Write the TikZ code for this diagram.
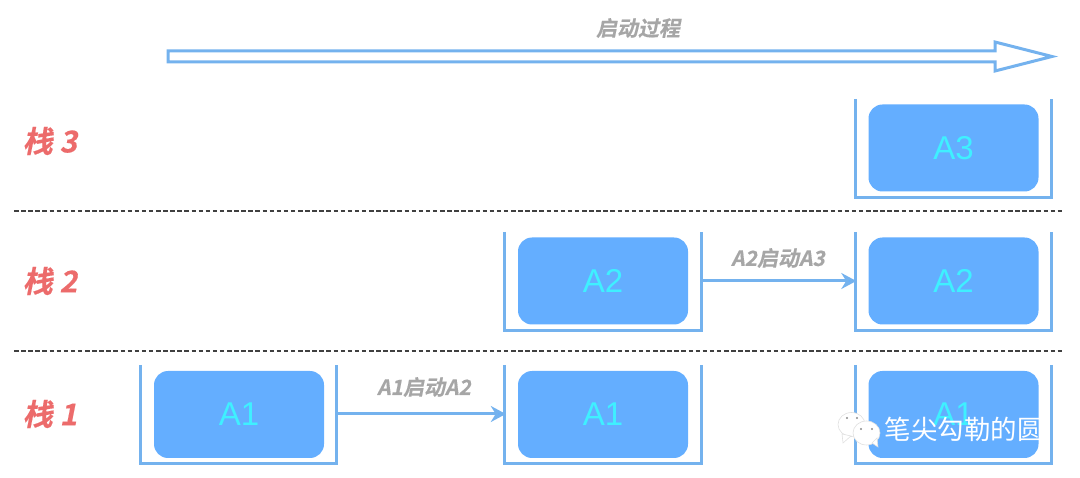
\documentclass[tikz,border=0pt]{standalone}
\usepackage{fontspec}
\setmainfont{Liberation Sans}
\newfontfamily\labelfont[FakeSlant=0.2,FakeBold=0.4]{Noto Sans CJK SC Bold}
\newfontfamily\markfont{Noto Sans CJK SC}
\usetikzlibrary{arrows.meta}
\definecolor{boxblue}{HTML}{64AEFF}
\definecolor{lineblue}{HTML}{74B2EE}
\definecolor{textcyan}{HTML}{3FF0FF}
\definecolor{stackred}{HTML}{EC6B6B}
\definecolor{notegray}{HTML}{A6A6A6}
\tikzset{
  activity/.style={fill=boxblue,rounded corners=14pt,minimum width=170pt,minimum height=87pt,inner sep=0pt,text=textcyan,font=\fontsize{33}{33}\selectfont},
  stackslot/.style={minimum width=196pt,minimum height=98pt,inner sep=0pt},
  stackline/.style={draw=lineblue,line width=3pt,line join=miter},
  startarrow/.style={draw=lineblue,line width=3pt,-{Stealth[length=15pt,width=16pt,fill=boxblue]},shorten >=-1pt},
  stacklabel/.style={text=stackred,font=\labelfont\fontsize{30}{30}\selectfont},
  startlabel/.style={text=notegray,font=\labelfont\fontsize{21}{21}\selectfont},
  divider/.style={draw=black!75,line width=1.6pt,dash pattern=on 4.5pt off 2.6pt},
  bubble/.style={fill=white,draw=black!12,line width=0.6pt},
  eye/.style={fill=black!45,circle,inner sep=0pt,minimum size=2.2pt}
}
\begin{document}
\begin{tikzpicture}[x=1pt,y=-1pt]
        \useasboundingbox (0,0) rectangle (1080,478);

        % 启动过程
        \coordinate (begin_top) at (168,51);
        \coordinate (begin_bot) at (168,62);
        \coordinate (neck_top) at (995,51);
        \coordinate (neck_bot) at (995,62);
        \coordinate (head_top) at (995,42);
        \coordinate (head_bot) at (995,71);
        \coordinate (tip) at (1052,56.5);
        \draw[stackline] (begin_top) -- (neck_top) -- (head_top) -- (tip) -- (head_bot) -- (neck_bot) -- (begin_bot) -- cycle;
        \node[startlabel] (process) at (638,28) {启动过程};

        % 分隔线
        \coordinate (div_a) at (14,211);
        \coordinate (div_b) at (1062,211);
        \coordinate (div_c) at (14,351);
        \coordinate (div_d) at (1062,351);
        \draw[divider] (div_a) -- (div_b);
        \draw[divider] (div_c) -- (div_d);

        % 栈的名字
        \node[stacklabel] (name_3) at (50,141) {栈 3};
        \node[stacklabel] (name_2) at (50,281) {栈 2};
        \node[stacklabel] (name_1) at (50,414) {栈 1};

        % 第一列
        \node[stackslot] (slot_a) at (238.5,414) {};
        \node[activity] (a_one) at (239,414.5) {A1};
        \draw[stackline] (slot_a.north west) -- (slot_a.south west) -- (slot_a.south east) -- (slot_a.north east);

        % 第二列
        \node[stackslot] (slot_b) at (603,414) {};
        \node[activity] (b_one) at (603,414.5) {A1};
        \draw[stackline] (slot_b.north west) -- (slot_b.south west) -- (slot_b.south east) -- (slot_b.north east);
        \node[stackslot] (slot_c) at (603,281) {};
        \node[activity] (b_two) at (603,281) {A2};
        \draw[stackline] (slot_c.north west) -- (slot_c.south west) -- (slot_c.south east) -- (slot_c.north east);

        % 第三列
        \node[stackslot] (slot_d) at (953.5,414) {};
        \node[activity] (c_one) at (953.5,414.5) {A1};
        \draw[stackline] (slot_d.north west) -- (slot_d.south west) -- (slot_d.south east) -- (slot_d.north east);
        \node[stackslot] (slot_e) at (953.5,281) {};
        \node[activity] (c_two) at (953.5,281) {A2};
        \draw[stackline] (slot_e.north west) -- (slot_e.south west) -- (slot_e.south east) -- (slot_e.north east);
        \node[stackslot] (slot_f) at (953.5,148) {};
        \node[activity] (c_three) at (953.5,148) {A3};
        \draw[stackline] (slot_f.north west) -- (slot_f.south west) -- (slot_f.south east) -- (slot_f.north east);

        % 启动箭头
        \draw[startarrow] (slot_a.east) -- (slot_b.west);
        \draw[startarrow] (slot_c.east) -- (slot_e.west);
        \node[startlabel] (start_a) at (424,387) {A1启动A2};
        \node[startlabel] (start_b) at (778,258) {A2启动A3};

        % 水印
        \fill[bubble] (851.5,424.5) ellipse (13.5pt and 12pt);
        \fill[bubble] (842,434) -- (843,443) -- (851,436) -- cycle;
        \fill[bubble] (866.5,433) ellipse (13.5pt and 12pt);
        \fill[bubble] (872,443) -- (878,447) -- (877,438) -- cycle;
        \node[eye] (eye_a) at (847,418) {};
        \node[eye] (eye_b) at (857,418) {};
        \node[eye] (eye_c) at (861,429) {};
        \node[eye] (eye_d) at (872,429) {};
        \node[text=white,font=\markfont\fontsize{26.5}{27}\selectfont] (mark) at (964,429) {笔尖勾勒的圆};
\end{tikzpicture}
\end{document}
